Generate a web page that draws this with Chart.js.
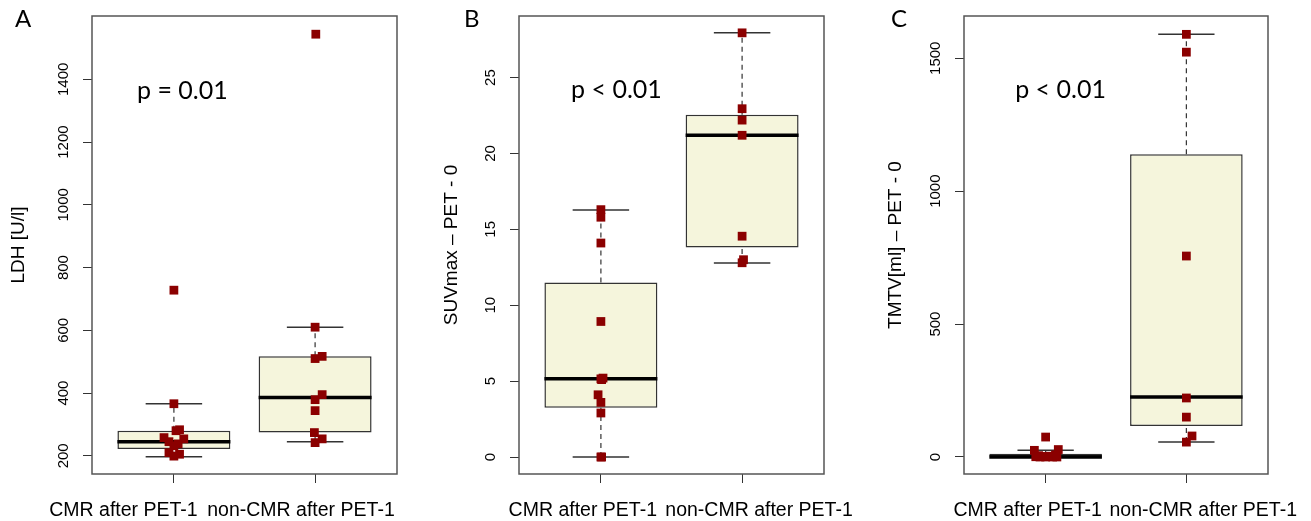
<!DOCTYPE html>
<html>
<head>
<meta charset="utf-8">
<script src="https://cdn.jsdelivr.net/npm/chart.js@4.4.0/dist/chart.umd.min.js"></script>
<style>
  body { margin: 0; background: #fff; }
  #wrap { position: relative; width: 1311px; height: 521px; }
  #wrap canvas { position: absolute; top: 0; }
</style>
</head>
<body>
<div id="wrap">
  <canvas id="cA" width="437" height="521" style="left:0px"></canvas>
  <canvas id="cB" width="437" height="521" style="left:437px"></canvas>
  <canvas id="cC" width="437" height="521" style="left:874px"></canvas>
</div>
<script>
// categorias
const groupLabels = ['CMR after PET-1', 'non-CMR after PET-1'];

// A: LDH
const ldhTicks = [200, 400, 600, 800, 1000, 1200, 1400];
const ldhCmr = [728, 366, 280, 283, 258, 245, 254, 238, 232, 210, 199, 205];
const ldhCmrX = [1.0, 1.0, 1.015, 1.04, 0.93, 0.965, 1.07, 1.03, 1.0, 0.965, 1.0, 1.04];
const ldhNonCmr = [1544, 610, 510, 517, 395, 379, 344, 274, 254, 242];
const ldhNonCmrX = [2.005, 2.0, 2.0, 2.05, 2.05, 2.0, 2.0, 1.995, 2.05, 2.0];
// [bigote bajo, q1, mediana, q3, bigote alto]
const ldhCmrBox = [197, 222, 245, 280, 366];
const ldhNonCmrBox = [245, 274, 386, 517, 610];

// B: SUVmax
const suvTicks = [0, 5, 10, 15, 20, 25];
const suvCmr = [16.3, 15.8, 14.1, 8.93, 5.2, 5.15, 5.1, 4.1, 3.6, 2.9, 0, 0];
const suvCmrX = [1.0, 1.0, 1.0, 1.0, 1.015, 1.0, 1.005, 0.98, 1.0, 1.0, 1.0, 1.005];
const suvNonCmr = [27.95, 22.95, 22.2, 21.2, 14.55, 13.0, 12.8];
const suvNonCmrX = [2.0, 2.0, 2.0, 2.0, 2.0, 2.01, 2.0];
const suvCmrBox = [0, 3.24, 5.15, 11.5, 16.27];
const suvNonCmrBox = [12.78, 13.8, 21.2, 22.55, 27.95];

// C: TMTV
const tmtvTicks = [0, 500, 1000, 1500];
const tmtvCmr = [75, 25, 28, 8, 5, 3, 2, 1, 0, 0, 0, 0];
const tmtvCmrX = [1.0, 0.92, 1.09, 1.07, 0.95, 1.03, 0.98, 0.93, 1.0, 1.05, 0.96, 1.08];
const tmtvNonCmr = [1590, 1523, 756, 222, 150, 79, 56];
const tmtvNonCmrX = [2.0, 2.0, 2.0, 2.0, 2.0, 2.04, 2.0];
const tmtvCmrBox = [0, 0, 0, 12, 25];
const tmtvNonCmrBox = [56, 117, 226, 1139, 1590];

Chart.defaults.font.family = "'Liberation Sans', Arial, sans-serif";
Chart.defaults.color = '#000';

// segmentos sueltos separados por un hueco
function segs(list) {
  var out = [];
  list.forEach(function (s) {
    out.push({ x: s[0], y: s[1] }, { x: s[2], y: s[3] }, { x: s[2], y: null });
  });
  return out;
}

function toPoints(vals, xs) {
  return vals.map(function (v, i) { return { x: xs[i], y: v }; });
}

// marco, etiquetas del eje y, letra y valor p
const panelDeco = {
  id: 'panelDeco',
  afterDatasetsDraw(chart) {
    const a = chart.chartArea;
    const ctx = chart.ctx;
    ctx.save();
    ctx.strokeStyle = '#555';
    ctx.lineWidth = 1.5;
    ctx.strokeRect(a.left, a.top, a.right - a.left, a.bottom - a.top);
    ctx.restore();
  },
  afterDraw(chart, args, o) {
    const ctx = chart.ctx;
    const y = chart.scales.y, x = chart.scales.x;
    ctx.save();
    ctx.fillStyle = '#000';
    ctx.font = "15px 'Liberation Sans', Arial, sans-serif";
    ctx.textAlign = 'center';
    ctx.textBaseline = 'middle';
    y.ticks.forEach(function (t) {
      ctx.save();
      ctx.translate(chart.chartArea.left - 28, y.getPixelForValue(t.value));
      ctx.rotate(-Math.PI / 2);
      ctx.fillText(String(t.value), 0, 0);
      ctx.restore();
    });
    ctx.font = "25px Lato, 'Noto Sans', sans-serif";
    ctx.textBaseline = 'alphabetic';
    ctx.fillText(o.pText, x.getPixelForValue(o.pX), y.getPixelForValue(o.pY));
    ctx.font = "24px Lato, 'Noto Sans', sans-serif";
    ctx.textAlign = 'left';
    ctx.fillText(o.letter, o.letterX, 27);
    ctx.restore();
  }
};

function buildChart(id, p) {
  var pos = [1, 2];
  var boxes = [p.cmrBox, p.nonBox];
  var xMin = 0.42, xMax = 2.58;

  return new Chart(document.getElementById(id), {
    type: 'bar',
    data: {
      datasets: [
        {
          type: 'scatter',
          data: toPoints(p.cmr, p.cmrX).concat(toPoints(p.non, p.nonX)),
          backgroundColor: '#8B0000',
          borderWidth: 0,
          pointStyle: 'rect',
          pointRadius: 6.2,
          order: 0
        },
        {
          type: 'line',
          data: segs(boxes.map(function (b, i) { return [pos[i] - 0.4, b[2], pos[i] + 0.4, b[2]]; })),
          borderColor: '#000',
          borderWidth: 3.5,
          borderCapStyle: 'butt',
          pointRadius: 0,
          spanGaps: false,
          order: 1
        },
        {
          type: 'bar',
          data: boxes.map(function (b, i) { return { x: pos[i], y: [b[1], b[3]] }; }),
          backgroundColor: '#F5F5DC',
          borderColor: '#333',
          borderWidth: 1.5,
          borderSkipped: false,
          barPercentage: 1,
          categoryPercentage: 0.8,
          order: 2
        },
        {
          type: 'line',
          data: segs([].concat.apply([], boxes.map(function (b, i) {
            return [[pos[i] - 0.2, b[0], pos[i] + 0.2, b[0]], [pos[i] - 0.2, b[4], pos[i] + 0.2, b[4]]];
          }))),
          borderColor: '#333',
          borderWidth: 1.5,
          pointRadius: 0,
          spanGaps: false,
          order: 3
        },
        {
          type: 'line',
          data: segs([].concat.apply([], boxes.map(function (b, i) {
            return [[pos[i], b[3], pos[i], b[4]], [pos[i], b[0], pos[i], b[1]]];
          }))),
          borderColor: '#333',
          borderWidth: 1.2,
          borderDash: [5, 4],
          pointRadius: 0,
          spanGaps: false,
          order: 4
        }
      ]
    },
    options: {
      responsive: false,
      animation: false,
      layout: { padding: { left: 0, right: p.padRight, top: 16, bottom: 0 } },
      plugins: {
        legend: { display: false },
        tooltip: { enabled: false },
        panelDeco: p.deco
      },
      scales: {
        x: {
          type: 'linear',
          min: xMin, max: xMax,
          offset: false,
          weight: 0,
          border: { display: false },
          grid: { offset: false, drawOnChartArea: false, drawTicks: true, tickLength: 9, color: '#333' },
          ticks: { display: false },
          afterBuildTicks: function (s) { s.ticks = pos.map(function (v) { return { value: v }; }); }
        },
        xLab: {
          type: 'linear',
          position: 'bottom',
          min: xMin, max: xMax,
          offset: false,
          weight: 1,
          border: { display: false },
          grid: { display: false, drawTicks: false },
          ticks: {
            autoSkip: false, maxRotation: 0, minRotation: 0,
            padding: 16,
            font: { size: 19.5 },
            color: '#000',
            callback: function (v, i) { return groupLabels[i]; }
          },
          afterBuildTicks: function (s) { s.ticks = p.labelPos.map(function (v) { return { value: v }; }); },
          afterFit: function (s) {
            // las etiquetas pueden salirse del area, no reservar espacio
            s.height = 38;
            s.paddingLeft = 0; s.paddingRight = 0;
            s.paddingTop = 0; s.paddingBottom = 0;
          }
        },
        y: {
          type: 'linear',
          min: p.yMin, max: p.yMax,
          beginAtZero: false,
          border: { display: false },
          grid: { drawOnChartArea: false, drawTicks: true, tickLength: 9, color: '#333' },
          ticks: { display: false },
          title: {
            display: true,
            text: p.title,
            font: { size: 19 },
            color: '#000',
            padding: { top: p.titlePad, bottom: 0 }
          },
          afterBuildTicks: function (s) { s.ticks = p.ticks.map(function (v) { return { value: v }; }); },
          afterFit: function (s) { s.width = p.yWidth; }
        }
      }
    },
    plugins: [panelDeco]
  });
}

buildChart('cA', {
  cmr: ldhCmr, cmrX: ldhCmrX, non: ldhNonCmr, nonX: ldhNonCmrX,
  cmrBox: ldhCmrBox, nonBox: ldhNonCmrBox, ticks: ldhTicks,
  yMin: 142, yMax: 1602, title: 'LDH [U/l]', titlePad: 7.6,
  yWidth: 92, padRight: 40, labelPos: [0.643, 1.9],
  deco: { letter: 'A', letterX: 15, pText: 'p = 0.01', pX: 1.06, pY: 1336 }
});

buildChart('cB', {
  cmr: suvCmr, cmrX: suvCmrX, non: suvNonCmr, nonX: suvNonCmrX,
  cmrBox: suvCmrBox, nonBox: suvNonCmrBox, ticks: suvTicks,
  yMin: -1.12, yMax: 29.06, title: 'SUVmax – PET - 0', titlePad: 3.6,
  yWidth: 82, padRight: 50, labelPos: [0.872, 2.12],
  deco: { letter: 'B', letterX: 27, pText: 'p < 0.01', pX: 1.11, pY: 23.68 }
});

buildChart('cC', {
  cmr: tmtvCmr, cmrX: tmtvCmrX, non: tmtvNonCmr, nonX: tmtvNonCmrX,
  cmrBox: tmtvCmrBox, nonBox: tmtvNonCmrBox, ticks: tmtvTicks,
  yMin: -64, yMax: 1659, title: 'TMTV[ml] – PET - 0', titlePad: 10.6,
  yWidth: 90, padRight: 43, labelPos: [0.872, 2.12],
  deco: { letter: 'C', letterX: 17, pText: 'p < 0.01', pX: 1.106, pY: 1350 }
});
</script>
</body>
</html>
